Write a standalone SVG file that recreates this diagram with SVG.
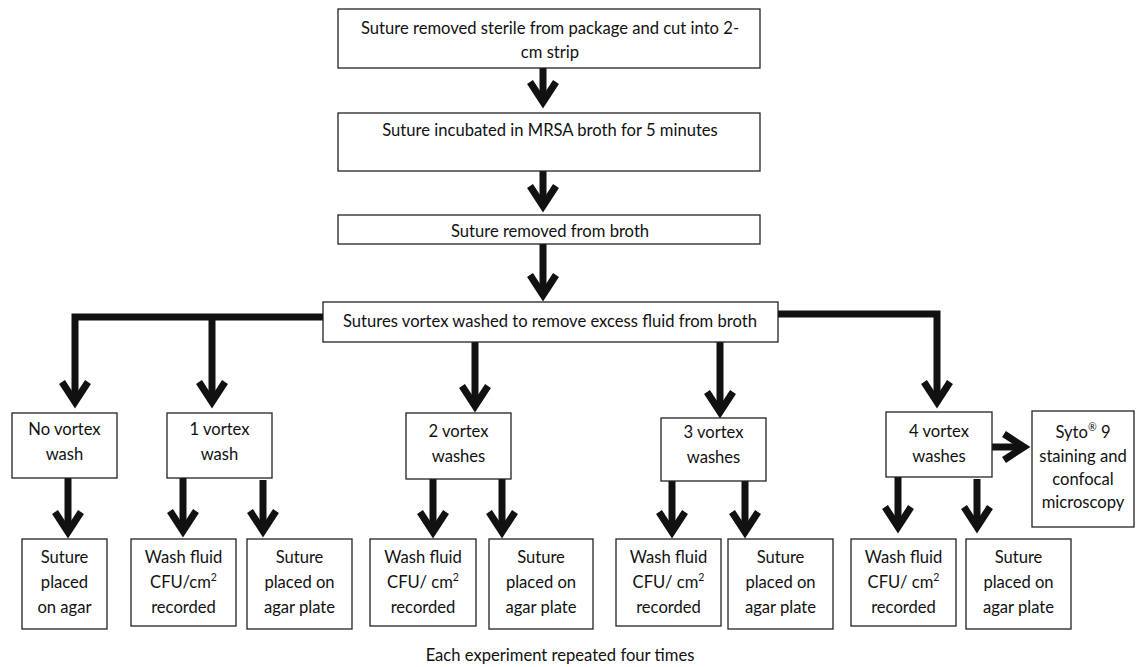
<svg xmlns="http://www.w3.org/2000/svg" width="1137" height="667" viewBox="0 0 1137 667">
<style>
.box{fill:#fff;stroke:#222;stroke-width:1.3}
.t{font-family:Lato,"Liberation Sans",sans-serif;font-size:16.6px;fill:#111;text-anchor:middle}
.sup{font-size:10.5px}
.c{fill:none;stroke:#111;stroke-width:7;stroke-linejoin:miter;marker-end:url(#ah)}
</style>
<defs>
<marker id="ah" markerUnits="userSpaceOnUse" orient="auto" refX="0" refY="0" markerWidth="40" markerHeight="40" viewBox="-30 -20 40 40" overflow="visible">
<path d="M-20,-13 L0,0 L-20,13" fill="none" stroke="#111" stroke-width="7" stroke-linejoin="miter" stroke-miterlimit="10"/>
</marker>
</defs>
<rect width="1137" height="667" fill="#fff"/>
<g id="connectors">
<path class="c" d="M543,68 V102"/>
<path class="c" d="M543,171 V206"/>
<path class="c" d="M543,244 V295"/>
<path class="c" d="M323,317 H75 V402"/>
<path class="c" d="M212,317 V402"/>
<path class="c" d="M778,314 H937 V402"/>
<path class="c" d="M475,342 V406"/>
<path class="c" d="M720,342 V412"/>
<path class="c" d="M992,447 H1024"/>
<path class="c" d="M68,478 V532"/>
<path class="c" d="M183,478 V531"/>
<path class="c" d="M263,480 V531"/>
<path class="c" d="M433,479 V532"/>
<path class="c" d="M502,479 V532"/>
<path class="c" d="M672,481 V532"/>
<path class="c" d="M745,481 V532"/>
<path class="c" d="M898,477 V527"/>
<path class="c" d="M977,479 V527"/>
</g>
<g id="n1"><rect class="box" x="338" y="9" width="422" height="59"/>
<text class="t" x="550" y="34">Suture removed sterile from package and cut into 2-</text>
<text class="t" x="550" y="58">cm strip</text></g>
<g id="n2"><rect class="box" x="338" y="113" width="422" height="58"/>
<text class="t" x="550" y="136">Suture incubated in MRSA broth for 5 minutes</text></g>
<g id="n3"><rect class="box" x="338" y="215" width="422" height="29"/>
<text class="t" x="550" y="237">Suture removed from broth</text></g>
<g id="n4"><rect class="box" x="323" y="302" width="455" height="40"/>
<text class="t" x="550" y="327">Sutures vortex washed to remove excess fluid from broth</text></g>
<g id="w0"><rect class="box" x="12" y="413" width="105" height="65"/>
<text class="t" x="64.5" y="435">No vortex</text><text class="t" x="64.5" y="460">wash</text></g>
<g id="w1"><rect class="box" x="167" y="413" width="105" height="65"/>
<text class="t" x="219.5" y="435">1 vortex</text><text class="t" x="219.5" y="460">wash</text></g>
<g id="w2"><rect class="box" x="406" y="413" width="105" height="66"/>
<text class="t" x="458.5" y="437">2 vortex</text><text class="t" x="458.5" y="462">washes</text></g>
<g id="w3"><rect class="box" x="661" y="418" width="105" height="63"/>
<text class="t" x="713.5" y="438">3 vortex</text><text class="t" x="713.5" y="463">washes</text></g>
<g id="w4"><rect class="box" x="886" y="412" width="106" height="65"/>
<text class="t" x="939" y="437">4 vortex</text><text class="t" x="939" y="462">washes</text></g>
<g id="syto"><rect class="box" x="1032" y="411" width="102" height="116"/>
<text class="t" x="1083" y="438">Syto<tspan class="sup" dy="-7">®</tspan><tspan dy="7"> 9</tspan></text>
<text class="t" x="1083" y="462">staining and</text>
<text class="t" x="1083" y="485">confocal</text>
<text class="t" x="1083" y="508">microscopy</text></g>
<g id="r0"><rect class="box" x="22" y="539" width="85" height="90"/>
<text class="t" x="64.5" y="563">Suture</text><text class="t" x="64.5" y="588">placed</text><text class="t" x="64.5" y="613">on agar</text></g>
<g id="r1a"><rect class="box" x="131" y="539" width="105" height="87"/>
<text class="t" x="183.5" y="563">Wash fluid</text><text class="t" x="183.5" y="588">CFU/cm<tspan class="sup" dy="-7">2</tspan></text><text class="t" x="183.5" y="613">recorded</text></g>
<g id="r1b"><rect class="box" x="247" y="539" width="105" height="90"/>
<text class="t" x="299.5" y="563">Suture</text><text class="t" x="299.5" y="588">placed on</text><text class="t" x="299.5" y="613">agar plate</text></g>
<g id="r2a"><rect class="box" x="370" y="539" width="106" height="87"/>
<text class="t" x="423" y="563">Wash fluid</text><text class="t" x="423" y="588">CFU/ cm<tspan class="sup" dy="-7">2</tspan></text><text class="t" x="423" y="613">recorded</text></g>
<g id="r2b"><rect class="box" x="489" y="539" width="104" height="90"/>
<text class="t" x="541" y="563">Suture</text><text class="t" x="541" y="588">placed on</text><text class="t" x="541" y="613">agar plate</text></g>
<g id="r3a"><rect class="box" x="616" y="539" width="105" height="87"/>
<text class="t" x="668.5" y="563">Wash fluid</text><text class="t" x="668.5" y="588">CFU/ cm<tspan class="sup" dy="-7">2</tspan></text><text class="t" x="668.5" y="613">recorded</text></g>
<g id="r3b"><rect class="box" x="728" y="539" width="105" height="90"/>
<text class="t" x="780.5" y="563">Suture</text><text class="t" x="780.5" y="588">placed on</text><text class="t" x="780.5" y="613">agar plate</text></g>
<g id="r4a"><rect class="box" x="851" y="539" width="105" height="87"/>
<text class="t" x="903.5" y="563">Wash fluid</text><text class="t" x="903.5" y="588">CFU/ cm<tspan class="sup" dy="-7">2</tspan></text><text class="t" x="903.5" y="613">recorded</text></g>
<g id="r4b"><rect class="box" x="966" y="539" width="105" height="90"/>
<text class="t" x="1018.5" y="563">Suture</text><text class="t" x="1018.5" y="588">placed on</text><text class="t" x="1018.5" y="613">agar plate</text></g>
<g id="caption"><text class="t" x="560" y="661">Each experiment repeated four times</text></g>
</svg>
